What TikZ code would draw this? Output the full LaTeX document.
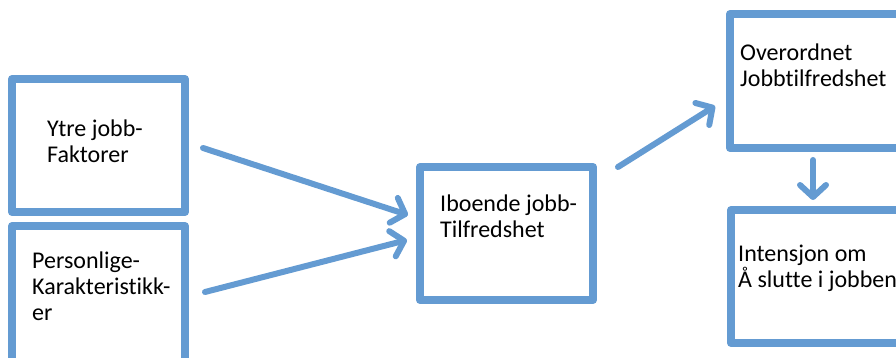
\documentclass[tikz,border=0pt]{standalone}
\usepackage{fontspec}
\setmainfont{Carlito}[Ligatures=NoCommon]
\usetikzlibrary{arrows.meta}
\definecolor{boxblue}{RGB}{100,155,210}
\tikzset{
  frame/.style={draw=boxblue, line width=8pt, line join=round, rectangle},
  flow/.style={draw=boxblue, line width=6pt, line cap=round,
    -{Straight Barb[length=12pt, width=26pt, round]}},
  % labels are placed by the baseline of their last line
  label/.style={anchor=base west, inner sep=0pt, align=left,
    font=\fontsize{24}{26}\selectfont},
}
\begin{document}
\begin{tikzpicture}[x=1pt, y=-1pt]
  \useasboundingbox (0,0) rectangle (896,358);
  % boxes
  \draw[frame] (12,79) rectangle (185,212);
  \draw[frame] (12,226) rectangle (185,368);
  \draw[frame] (420,167) rectangle (593,300);
  \draw[frame] (730,14) rectangle (910,148);
  \draw[frame] (731,210) rectangle (910,343);
  % labels
  \node[label] (ytre) at (47,163) {Ytre jobb-\\Faktorer};
  \node[label] (pers) at (32,320) {Personlige-\\Karakteristikk-\\er};
  \node[label] (iboende) at (440,237) {Iboende jobb-\\Tilfredshet};
  \node[label] (overordnet) at (740,87) {Overordnet\\Jobbtilfredshet};
  \node[label] (intensjon) at (738,287) {Intensjon om\\Å slutte i jobben};
  % arrow end points
  \coordinate (a1s) at (203,148);
  \coordinate (a1e) at (408,215);
  \coordinate (a2s) at (205,292);
  \coordinate (a2e) at (407,240);
  \coordinate (a3s) at (618,167);
  \coordinate (a3e) at (715,106);
  \coordinate (a4s) at (813,160);
  \coordinate (a4e) at (813,200);
  \draw[flow] (a1s) -- (a1e);
  \draw[flow] (a2s) -- (a2e);
  \draw[flow] (a3s) -- (a3e);
  \draw[flow] (a4s) -- (a4e);
\end{tikzpicture}
\end{document}
